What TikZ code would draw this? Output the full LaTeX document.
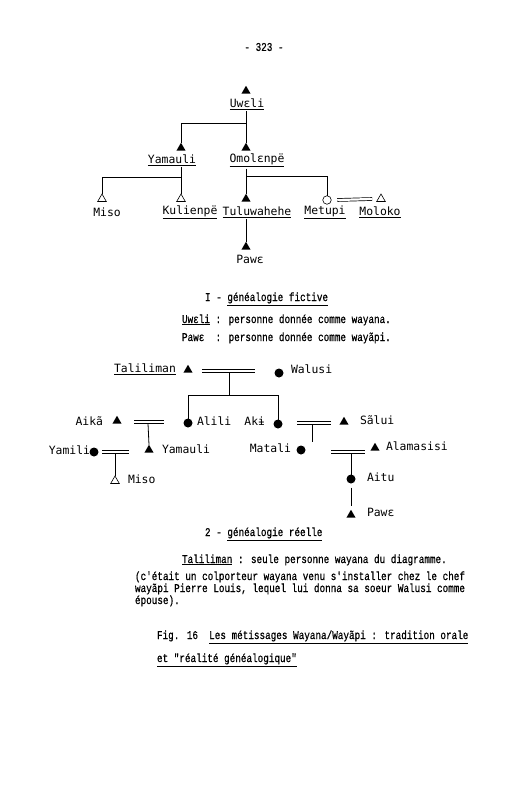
\documentclass[tikz,border=0pt]{standalone}
\usepackage{fontspec}
\newfontfamily\capfont{Liberation Mono}[FakeStretch=0.79, FakeBold=0.6]
\newfontfamily\dotfont{DejaVu Sans Mono}
\newcommand\lep{\iffontchar\font"025B ɛ\else{\dotfont ɛ}\fi}
\usetikzlibrary{shapes.geometric}
\begin{document}
\begin{tikzpicture}[x=1pt,y=-1pt,
  every node/.style={inner sep=0pt, outer sep=0pt},
  ftri/.style={regular polygon, regular polygon sides=3, fill=black, minimum size=10.5pt},
  otri/.style={regular polygon, regular polygon sides=3, draw, line width=0.6pt, fill=white, minimum size=10pt},
  fcirc/.style={circle, fill=black, minimum size=9pt},
  ocirc/.style={circle, draw, line width=0.6pt, minimum size=8.5pt},
  lab/.style={font=\dotfont\fontsize{11.4}{13}\selectfont},
  captxt/.style={font=\capfont\fontsize{11.8}{13}\selectfont, anchor=base west},
  link/.style={line width=0.8pt},
  marr/.style={double, double distance=2.2pt, line width=0.7pt}
]
\useasboundingbox[fill=white] (0,0) rectangle (520,800);

\node[font=\capfont\fontsize{11.8}{13}\selectfont] (pg) at (264,47) {- 323 -};

% ---------- Part 1 ----------
\node[ftri] (uw) at (246,91) {};
\node[lab] (uwl) at (247,104) {\underline{Uwɛli}};
\node[ftri] (ya) at (181,148) {};
\node[lab] (yal) at (172,160) {\underline{Yamauli}};
\node[ftri] (om) at (246,148) {};
\node[lab] (oml) at (257,160) {\underline{Omolɛnpë}};
\coordinate (j1) at (246,123);
\draw[link] ([yshift=-2pt]uw |- uwl.south) -- (om.north);
\draw[link] (j1) -| (ya.north);

\node[otri] (mi) at (102,199) {};
\node[otri] (ku) at (181,199) {};
\node[ftri] (tu) at (246,199) {};
\node[ocirc] (mt) at (327,200) {};
\node[otri] (mo) at (381,199) {};
\node[lab] (mil) at (107,212) {Miso};
\node[lab] (kul) at (190,212) {\underline{Kulienpë}};
\node[lab] (tul) at (257,212) {\underline{Tuluwahehe}};
\node[lab] (mtl) at (325,212) {\underline{Metupi}};
\node[lab] (mol) at (380,212) {\underline{Moloko}};

\coordinate (j2) at (181,177);
\draw[link] ([yshift=-2pt]ya |- yal.south) -- (ku.north);
\draw[link] (j2) -| (mi.north);
\coordinate (j3) at (246,176);
\draw[link] ([yshift=-2pt]om |- oml.south) -- (tu.north);
\draw[link] (j3) -| (mt.north);
\draw[marr] ([xshift=6pt]mt.east) -- ([xshift=-6pt]mo.west);

\node[ftri] (pw) at (246,247) {};
\node[lab] (pwl) at (250,259) {Pawɛ};
\draw[link] ([yshift=-2pt]tu |- tul.south) -- (pw.north);

\node[captxt] (c1) at (205,301) {I - \underline{généalogie fictive}};
\node[captxt] (l1) at (182,323) {\underline{Uw\lep li} : personne donnée comme wayana.};
\node[captxt] (l2) at (182,341) {Paw\lep\ \ : personne donnée comme wayãpi.};

% ---------- Part 2 ----------
\node[lab] (tal) at (145,369) {\underline{Taliliman}};
\node[ftri] (ta) at (188,370) {};
\node[fcirc] (wa) at (279,373) {};
\node[lab, anchor=west] (wal) at (291,369) {Walusi};
\coordinate (m1a) at (202,371);
\coordinate (m1b) at (255,371);
\draw[marr] (m1a) -- (m1b);
\coordinate (m1) at (229,372.5);
\coordinate (j4) at (229,395);

\node[fcirc] (al) at (188,423) {};
\node[lab, anchor=west] (all) at (197,421) {Alili};
\node[fcirc] (ak) at (278,424) {};
\node[lab, anchor=east] (akl) at (265,421) {Akɨ};
\draw[link] (m1) -- (j4);
\draw[link] (al.north) -- (al |- j4) -- (ak |- j4) -- (ak.north);

\node[lab, anchor=east] (ail) at (103,421) {Aikã};
\node[ftri] (ai) at (117,421) {};
\coordinate (m2a) at (134,422);
\coordinate (m2b) at (164,422);
\draw[marr] (m2a) -- (m2b);
\coordinate (m2) at (148,423.5);
\node[ftri] (ym) at (149,450) {};
\node[lab, anchor=west] (yml) at (162,449) {Yamauli};
\draw[link] (m2) -- (ym.north);

\node[lab, anchor=east] (yil) at (90,450) {Yamili};
\node[fcirc] (yi) at (94,452) {};
\coordinate (m3a) at (102,452);
\coordinate (m3b) at (129,452);
\draw[marr] (m3a) -- (m3b);
\coordinate (m3) at (115,453.5);
\node[otri] (ms) at (115,481) {};
\node[lab, anchor=west] (msl) at (128,479) {Miso};
\draw[link] (m3) -- (ms.north);

\node[ftri] (sa) at (344,422) {};
\node[lab, anchor=west] (sal) at (360,420) {Sãlui};
\coordinate (m4a) at (297,423);
\coordinate (m4b) at (331,423);
\draw[marr] (m4a) -- (m4b);
\coordinate (m4) at (312,424.5);
\coordinate (m4e) at (312,442);
\draw[link] (m4) -- (m4e);

\node[fcirc] (ma) at (301,450) {};
\node[lab, anchor=east] (mal) at (291,448) {Matali};
\node[ftri] (am) at (375,448) {};
\node[lab, anchor=west] (aml) at (386,446) {Alamasisi};
\coordinate (m5a) at (331,452);
\coordinate (m5b) at (365,452);
\draw[marr] (m5a) -- (m5b);
\coordinate (m5) at (351,453.5);

\node[fcirc] (at) at (351,479) {};
\node[lab, anchor=west] (atl) at (367,477) {Aitu};
\draw[link] (m5) -- (at.north);
\node[ftri] (pw2) at (351,515) {};
\node[lab, anchor=west] (pw2l) at (367,512) {Pawɛ};
\draw[link] ([yshift=-4pt]at.south) -- ([yshift=4pt]pw2.north);

\node[captxt] (c2) at (205,536) {2 - \underline{généalogie réelle}};
\node[captxt] (c3) at (182,563) {\underline{Taliliman} : seule personne wayana du diagramme.};
\node[captxt] (c4) at (135,580) {(c'était un colporteur wayana venu s'installer chez le chef};
\node[captxt] (c5) at (135,592) {wayãpi Pierre Louis, lequel lui donna sa soeur Walusi comme};
\node[captxt] (c6) at (135,604) {épouse).};

\node[captxt] (f1) at (157,639) {Fig. 16\ \ \underline{Les métissages Wayana/Wayãpi : tradition orale}};
\node[captxt] (f2) at (157,662) {\underline{et "réalité généalogique"}};
\end{tikzpicture}
\end{document}
